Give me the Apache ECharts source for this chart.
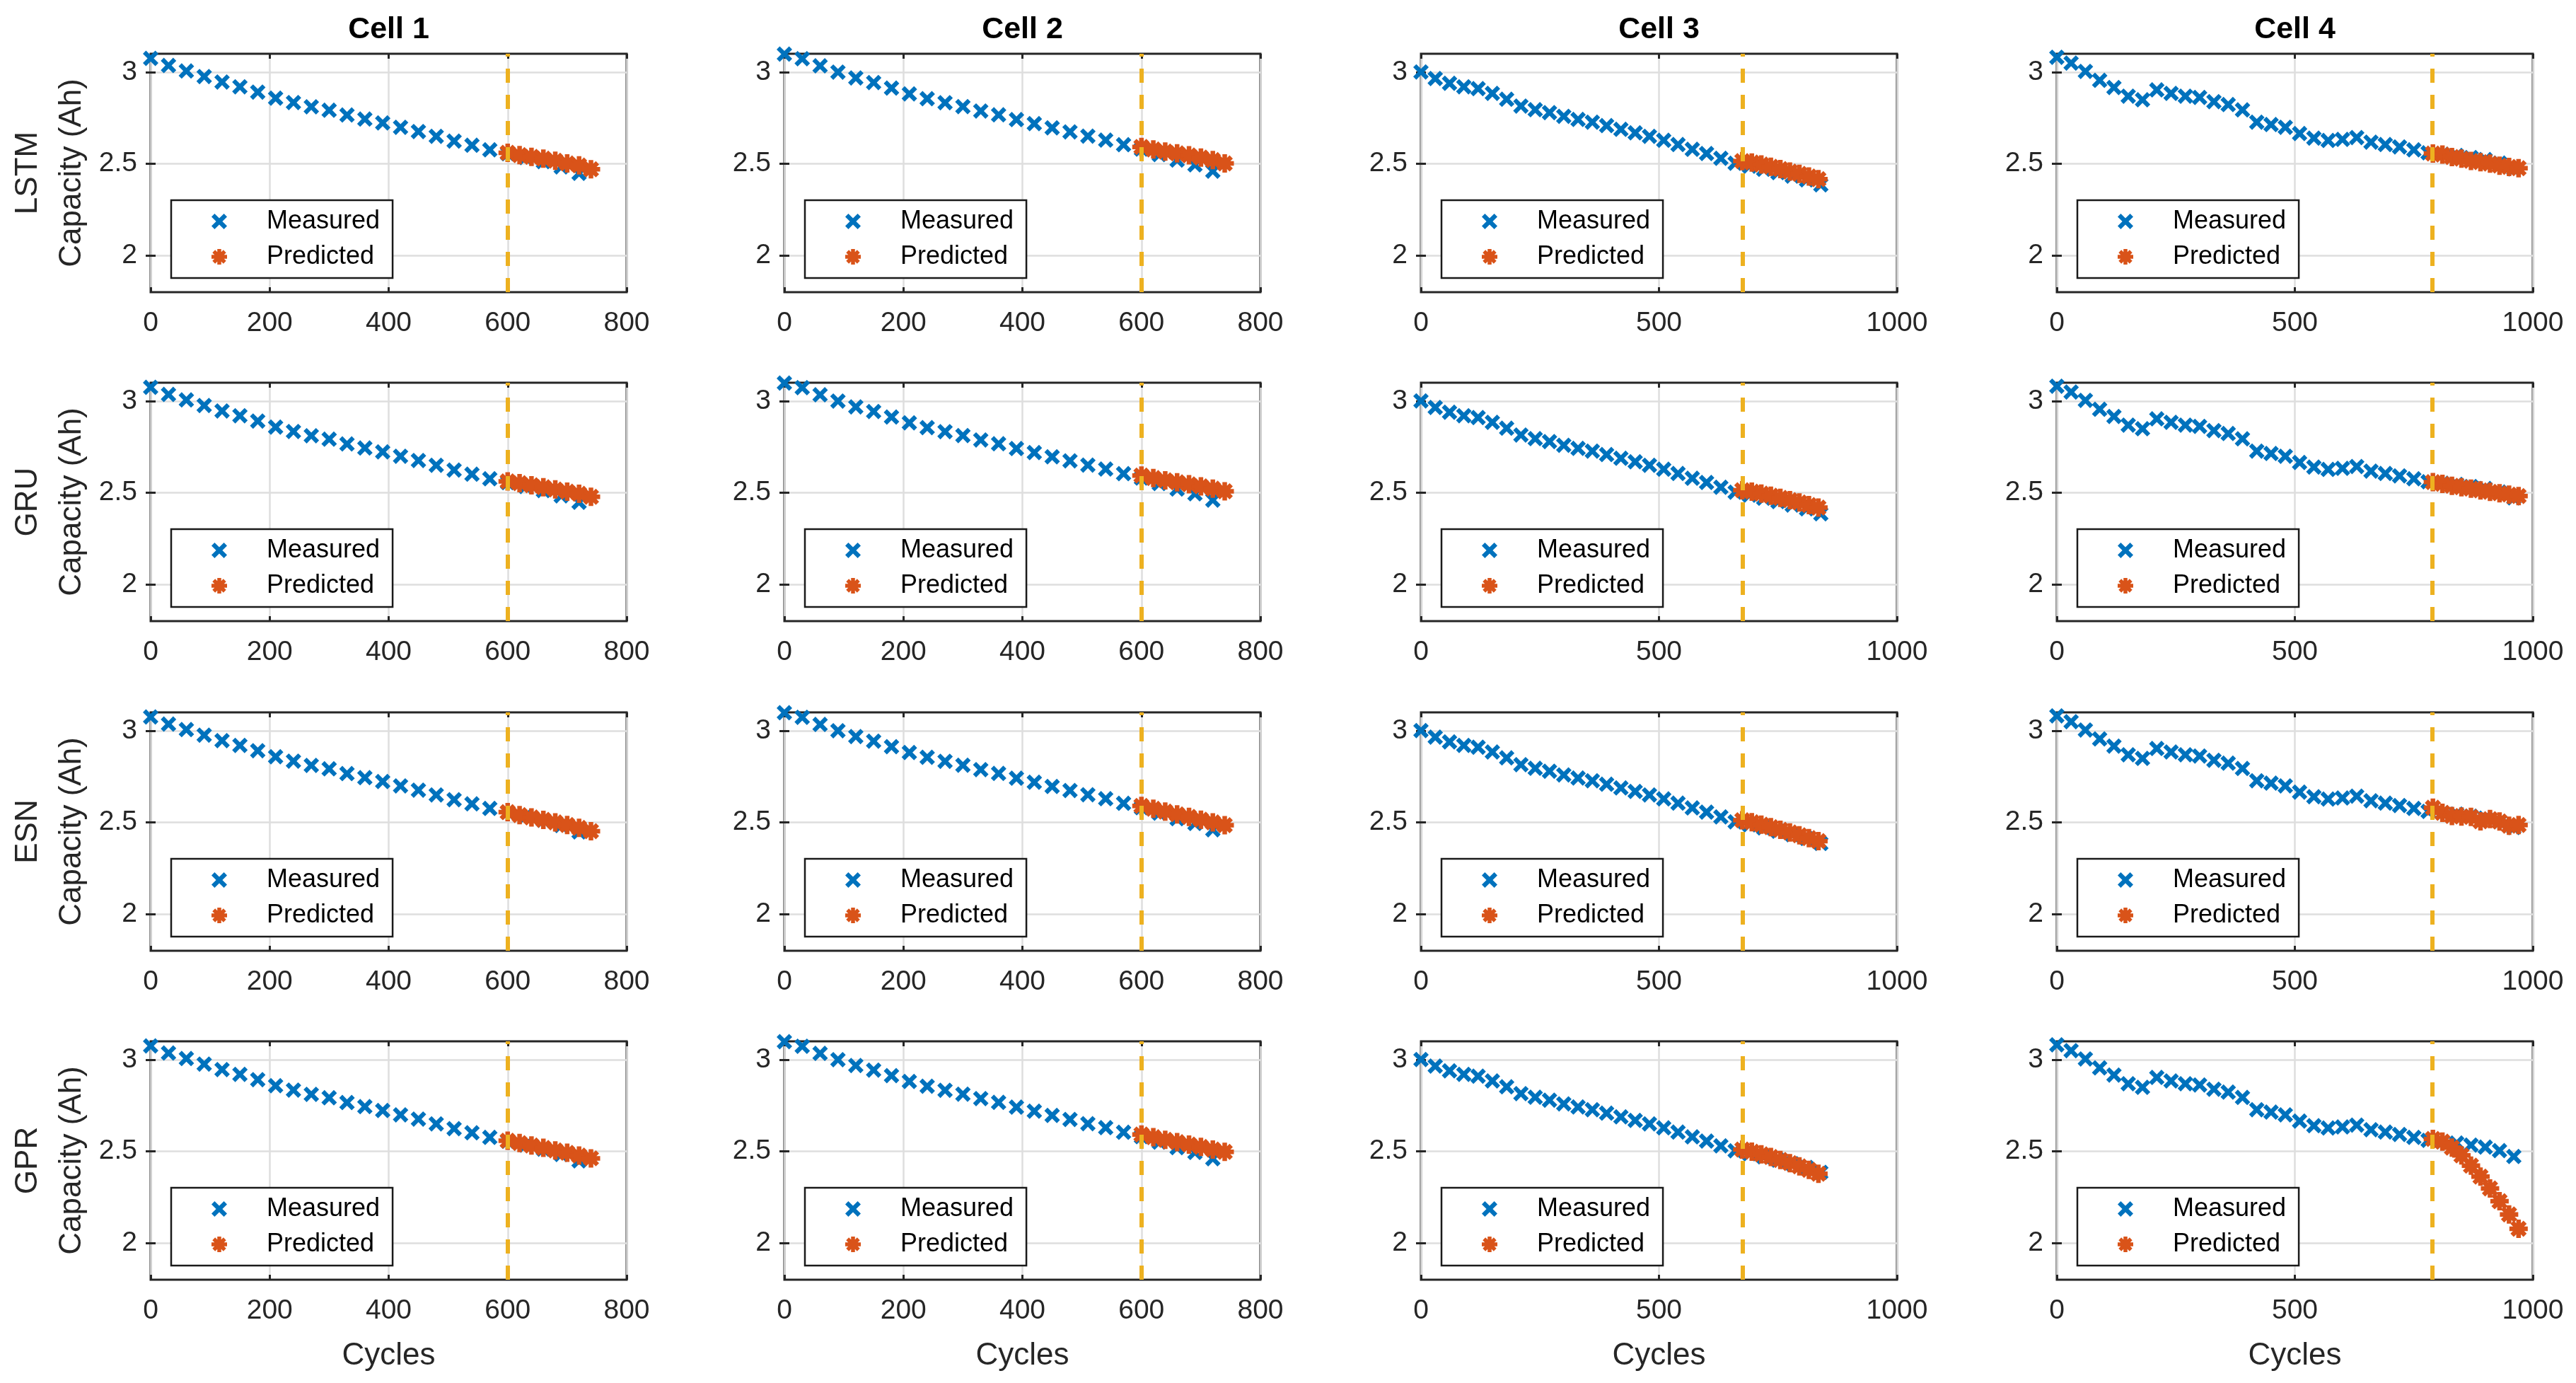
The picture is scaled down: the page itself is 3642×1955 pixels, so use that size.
<!DOCTYPE html>
<html>
<head>
<meta charset="utf-8">
<script src="https://cdn.jsdelivr.net/npm/echarts@6/dist/echarts.min.js"></script>
<style>
html,body{margin:0;padding:0;background:#fff;}
#chart{width:3642px;height:1955px;}
</style>
</head>
<body>
<div id="chart"></div>
<script>
// ---------------- data ----------------
const cellNames = ['Cell 1', 'Cell 2', 'Cell 3', 'Cell 4'];
const modelNames = ['LSTM', 'GRU', 'ESN', 'GPR'];
const xMaxTicks = [800, 800, 1000, 1000];
const xTickStep = [200, 200, 500, 500];
const yTickValues = [2, 2.5, 3];
const splitCycles = [600, 600, 675, 788];

const cell1Cycles = [0,30,60,90,120,150,180,210,240,270,300,330,360,390,420,450,480,510,540,570,600,630,660,690,720];
const cell1Meas = [3.075,3.036,3.006,2.976,2.946,2.920,2.891,2.858,2.834,2.811,2.792,2.766,2.744,2.723,2.699,2.676,2.650,2.624,2.601,2.576,2.555,2.534,2.512,2.483,2.448];
const cell2Cycles = [0,30,60,90,120,150,180,210,240,270,300,330,360,390,420,450,480,510,540,570,600,630,660,690,720];
const cell2Meas = [3.098,3.073,3.034,3.000,2.968,2.943,2.913,2.881,2.855,2.833,2.812,2.788,2.767,2.741,2.719,2.696,2.674,2.651,2.629,2.604,2.580,2.550,2.520,2.494,2.460];
const cell3Cycles = [0,30,60,90,120,150,180,210,240,270,300,330,360,390,420,450,480,510,540,570,600,630,660,690,720,750,780,810,840];
const cell3Meas = [3.001,2.965,2.939,2.920,2.910,2.884,2.852,2.815,2.795,2.779,2.759,2.742,2.727,2.708,2.688,2.669,2.650,2.628,2.605,2.579,2.556,2.530,2.503,2.487,2.470,2.452,2.433,2.412,2.385];
const cell4Cycles = [0,30,60,90,120,150,180,210,240,270,300,330,360,390,420,450,480,510,540,570,600,630,660,690,720,750,780,810,840,870,900,930,960];
const cell4Meas = [3.081,3.049,3.004,2.955,2.916,2.869,2.849,2.903,2.884,2.869,2.862,2.839,2.823,2.794,2.727,2.714,2.699,2.665,2.640,2.627,2.633,2.643,2.618,2.605,2.592,2.576,2.560,2.552,2.545,2.534,2.523,2.504,2.472];

const pred1Cycles = [600,620,640,660,680,700,720,740];
const pred2Cycles = [600,620,640,660,680,700,720,740];
const pred3Cycles = [675,695,715,735,755,775,795,815,835];
const pred4Cycles = [790,810,830,850,870,890,910,930,950,970];

const lstm1 = [2.560,2.547,2.538,2.528,2.517,2.502,2.491,2.470];
const lstm2 = [2.592,2.578,2.567,2.557,2.546,2.534,2.520,2.502];
const lstm3 = [2.515,2.507,2.496,2.484,2.471,2.458,2.445,2.431,2.416];
const lstm4 = [2.556,2.550,2.537,2.528,2.516,2.509,2.501,2.490,2.483,2.476];

const gru1 = [2.562,2.552,2.541,2.530,2.518,2.506,2.494,2.478];
const gru2 = [2.594,2.580,2.568,2.557,2.546,2.535,2.522,2.508];
const gru3 = [2.514,2.506,2.495,2.484,2.472,2.460,2.447,2.433,2.419];
const gru4 = [2.558,2.548,2.538,2.530,2.522,2.513,2.505,2.497,2.490,2.482];

const esn1 = [2.556,2.540,2.527,2.514,2.500,2.486,2.470,2.452];
const esn2 = [2.590,2.574,2.559,2.544,2.530,2.515,2.500,2.485];
const esn3 = [2.512,2.501,2.488,2.474,2.460,2.445,2.430,2.414,2.398];
const esn4 = [2.580,2.552,2.535,2.532,2.530,2.506,2.518,2.505,2.482,2.486];

const gpr1 = [2.558,2.545,2.532,2.519,2.505,2.492,2.477,2.462];
const gpr2 = [2.592,2.577,2.563,2.550,2.537,2.524,2.510,2.497];
const gpr3 = [2.510,2.498,2.484,2.469,2.453,2.436,2.418,2.399,2.378];
const gpr4 = [2.568,2.553,2.520,2.478,2.422,2.362,2.298,2.228,2.156,2.078];

// ---------------- layout / style ----------------
const measCycles = [cell1Cycles, cell2Cycles, cell3Cycles, cell4Cycles];
const measCaps = [cell1Meas, cell2Meas, cell3Meas, cell4Meas];
const predCycles = [pred1Cycles, pred2Cycles, pred3Cycles, pred4Cycles];
const predByModel = [
  [lstm1, lstm2, lstm3, lstm4],
  [gru1, gru2, gru3, gru4],
  [esn1, esn2, esn3, esn4],
  [gpr1, gpr2, gpr3, gpr4]
];

const FONT = '"Liberation Sans", Arial, Helvetica, sans-serif';
const AX = '#262626';
const GRIDC = '#dedede';
const gridLeft = [213, 1109, 2009, 2908];
const gridTop = [76, 541, 1007, 1472];
const gridW = 673, gridH = 337;

const xPath = 'path://M0,4 L4,0 L10,6 L16,0 L20,4 L14,10 L20,16 L16,20 L10,14 L4,20 L0,16 L6,10 Z';
const starPath = 'path://M0,9 L24,9 L24,15 L0,15 Z M9,0 L15,0 L15,24 L9,24 Z ' +
  'M5.64,1.40 L22.60,18.36 L18.36,22.60 L1.40,5.64 Z M18.36,1.40 L22.60,5.64 L5.64,22.60 L1.40,18.36 Z';

function pairs(xs, ys) { return xs.map((x, i) => [x, ys[i]]); }
function plainNum(v) { return String(v); }

const grids = [], xAxes = [], yAxes = [], series = [], legends = [];

for (let r = 0; r < 4; r++) {
  for (let c = 0; c < 4; c++) {
    const k = r * 4 + c;
    grids.push({
      left: gridLeft[c], top: gridTop[r], width: gridW, height: gridH,
      show: true, borderColor: AX, borderWidth: 3, backgroundColor: '#fff',
      containLabel: false, outerBoundsMode: 'none'
    });
    const tickStyle = { show: true, inside: true, length: 7, lineStyle: { color: AX, width: 3 } };
    xAxes.push({
      type: 'value', gridIndex: k, position: 'bottom',
      min: 0, max: xMaxTicks[c], interval: xTickStep[c],
      axisLine: { show: false },
      axisTick: tickStyle,
      axisLabel: { fontSize: 39, color: AX, margin: 25, fontFamily: FONT, showMinLabel: true, showMaxLabel: true, formatter: plainNum },
      splitLine: { show: true, lineStyle: { color: GRIDC, width: 2.5 } },
      name: r === 3 ? 'Cycles' : '', nameLocation: 'middle', nameGap: 86,
      nameTextStyle: { fontSize: 44, color: AX, fontFamily: FONT }
    });
    xAxes.push({
      type: 'value', gridIndex: k, position: 'top',
      min: 0, max: xMaxTicks[c], interval: xTickStep[c],
      axisLine: { show: false }, axisTick: tickStyle,
      axisLabel: { show: false }, splitLine: { show: false }
    });
    yAxes.push({
      type: 'value', gridIndex: k, position: 'left',
      min: 1.8, max: 3.1,
      axisLine: { show: false },
      axisTick: Object.assign({ customValues: yTickValues }, tickStyle),
      axisLabel: { customValues: yTickValues, fontSize: 39, color: AX, margin: 19, fontFamily: FONT, formatter: plainNum },
      splitLine: { show: true, lineStyle: { color: GRIDC, width: 2.5 } },
      name: c === 0 ? modelNames[r] + '\nCapacity (Ah)' : '',
      nameLocation: 'middle', nameRotate: 90, nameGap: 80,
      nameTextStyle: { fontSize: 44, lineHeight: 62, color: AX, fontFamily: FONT }
    });
    yAxes.push({
      type: 'value', gridIndex: k, position: 'right',
      min: 1.8, max: 3.1,
      axisLine: { show: false },
      axisTick: Object.assign({ customValues: yTickValues }, tickStyle),
      axisLabel: { show: false }, splitLine: { show: false }
    });

    series.push({
      type: 'scatter', name: 'Measured', xAxisIndex: 2 * k, yAxisIndex: 2 * k,
      data: pairs(measCycles[c], measCaps[c]),
      symbol: xPath, symbolSize: 22, clip: false, z: 2,
      itemStyle: { color: '#0072BD', opacity: 1 }, emphasis: { disabled: true }
    });
    series.push({
      type: 'scatter', name: 'Predicted', xAxisIndex: 2 * k, yAxisIndex: 2 * k,
      data: pairs(predCycles[c], predByModel[r][c]),
      symbol: starPath, symbolSize: 26, clip: false, z: 3,
      itemStyle: { color: '#D95319', opacity: 1 }, emphasis: { disabled: true },
      markLine: {
        silent: true, symbol: ['none', 'none'], label: { show: false },
        lineStyle: { color: '#EDB120', width: 6, type: [20, 17], opacity: 1 },
        emphasis: { disabled: true },
        data: [{ xAxis: splitCycles[c] }]
      }
    });

    legends.push({
      left: gridLeft[c] + 29, top: gridTop[r] + 207, orient: 'vertical',
      data: [{ name: 'Measured', icon: xPath }, { name: 'Predicted', icon: starPath }],
      itemWidth: 22, itemHeight: 22, itemGap: 14,
      padding: [12, 18, 12, 57],
      borderColor: '#1a1a1a', borderWidth: 2.5, backgroundColor: '#fff',
      selectedMode: false, z: 8,
      itemStyle: { borderWidth: 0, opacity: 1 },
      textStyle: { fontSize: 36, color: '#000', lineHeight: 22, padding: [0, 0, 0, 51], fontFamily: FONT }
    });
  }
}

const titles = cellNames.map((t, c) => ({
  type: 'text', x: gridLeft[c] + gridW / 2, y: 42, z: 100,
  style: {
    text: t, font: 'bold 43px ' + FONT, fill: '#000',
    textAlign: 'center', align: 'center', textVerticalAlign: 'middle', verticalAlign: 'middle'
  }
}));

const chart = echarts.init(document.getElementById('chart'), null, { renderer: 'canvas', width: 3642, height: 1955 });
chart.setOption({
  backgroundColor: '#fff',
  animation: false,
  textStyle: { fontFamily: FONT },
  grid: grids,
  xAxis: xAxes,
  yAxis: yAxes,
  legend: legends,
  series: series,
  graphic: titles
});
</script>
</body>
</html>
